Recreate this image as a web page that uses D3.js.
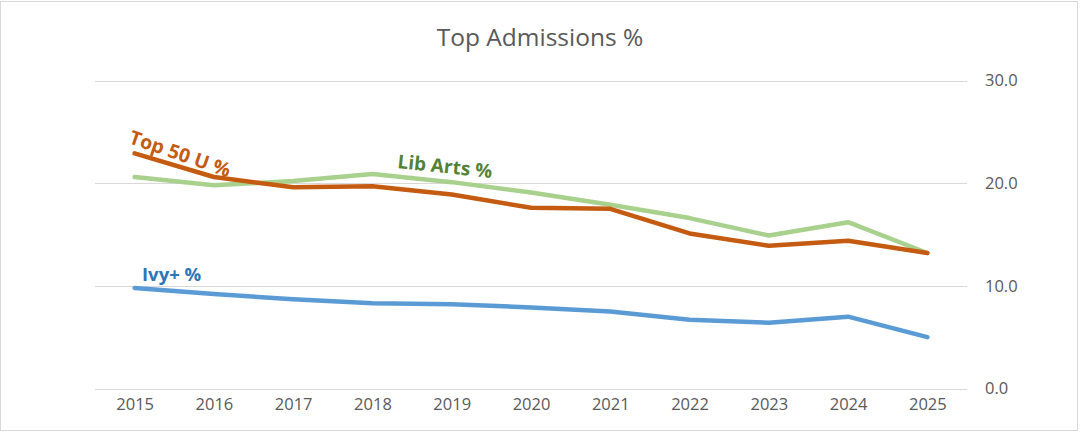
<!DOCTYPE html>
<html>
<head>
<meta charset="utf-8">
<script src="https://cdn.jsdelivr.net/npm/d3@7"></script>
<style>
  body { margin: 0; background: #fff; }
  svg text { font-family: "Open Sans", "Noto Sans", sans-serif; }
</style>
</head>
<body>
<svg id="chart"></svg>
<script>
const years = ["2015", "2016", "2017", "2018", "2019", "2020", "2021", "2022", "2023", "2024", "2025"];
const top50 = [22.9, 20.6, 19.6, 19.7, 18.9, 17.6, 17.5, 15.1, 13.9, 14.4, 13.2];
const libArts = [20.6, 19.8, 20.2, 20.9, 20.1, 19.1, 17.9, 16.6, 14.9, 16.2, 13.2];
const ivyPlus = [9.8, 9.2, 8.7, 8.3, 8.2, 7.9, 7.5, 6.7, 6.4, 7.0, 5.0];
const yTicks = [0, 10, 20, 30];

function main() {
    const width = 1080;
    const height = 432;

    const svg = d3.select("#chart").attr("width", width).attr("height", height);

    svg.append("rect")
        .attr("x", 0.5).attr("y", 1.5).attr("width", width - 3).attr("height", height - 3)
        .attr("fill", "#fff").attr("stroke", "#d9d9d9");

    const x = d3.scalePoint().domain(years).range([95, 967]).padding(0.5);
    const y = d3.scaleLinear().domain([0, 30]).range([388.5, 80.5]);

    svg.append("text")
        .attr("x", 540).attr("y", 46).attr("text-anchor", "middle")
        .attr("fill", "#595959").attr("font-size", 24.5)
        .text("Top Admissions %");

    // gridlines
    svg.append("g").selectAll("line").data(yTicks).join("line")
        .attr("x1", 95).attr("x2", 967)
        .attr("y1", d => Math.round(y(d)) + 0.5).attr("y2", d => Math.round(y(d)) + 0.5)
        .attr("stroke", "#d9d9d9").attr("stroke-width", 1);

    const yAxis = d3.axisRight(y).tickValues(yTicks).tickFormat(d3.format(".1f")).tickSize(0).tickPadding(18);
    const gy = svg.append("g").attr("transform", "translate(967,0)").call(yAxis);
    gy.select(".domain").remove();
    gy.selectAll("text").attr("fill", "#595959").attr("font-size", 16.5).attr("font-family", "Open Sans, Noto Sans, sans-serif");

    const xAxis = d3.axisBottom(x).tickSize(0).tickPadding(10);
    const gx = svg.append("g").attr("transform", "translate(0,388)").call(xAxis);
    gx.select(".domain").remove();
    gx.selectAll("text").attr("fill", "#595959").attr("font-size", 16.5).attr("font-family", "Open Sans, Noto Sans, sans-serif");

    const line = d3.line().x((d, i) => x(years[i])).y(d => y(d));

    const series = [
        { values: libArts, color: "#a9d18e" },
        { values: top50, color: "#c55a11" },
        { values: ivyPlus, color: "#5b9bd5" }
    ];

    svg.append("g").selectAll("path").data(series).join("path")
        .attr("d", d => line(d.values))
        .attr("fill", "none")
        .attr("stroke", d => d.color)
        .attr("stroke-width", 4.5)
        .attr("stroke-linejoin", "round")
        .attr("stroke-linecap", "round");

    // series labels
    svg.append("text")
        .attr("transform", "translate(128,143) rotate(19)")
        .attr("fill", "#c55a11").attr("font-size", 19.5).attr("font-weight", "bold")
        .text("Top 50 U %");

    svg.append("text")
        .attr("transform", "translate(397,168) rotate(6)")
        .attr("fill", "#548235").attr("font-size", 19).attr("font-weight", "bold")
        .text("Lib Arts %");

    svg.append("text")
        .attr("x", 142).attr("y", 281)
        .attr("fill", "#2e75b6").attr("font-size", 18.5).attr("font-weight", "bold")
        .text("Ivy+ %");
}

main();
</script>
</body>
</html>
